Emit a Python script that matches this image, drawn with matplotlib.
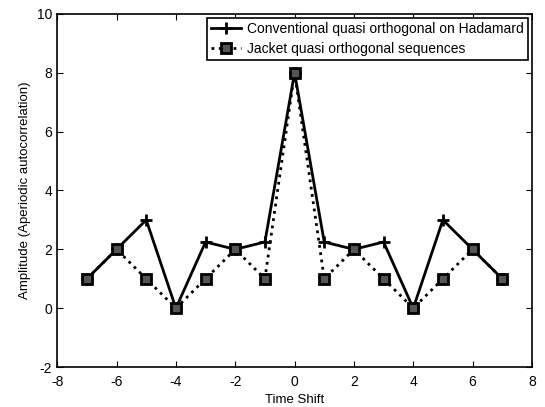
import matplotlib
matplotlib.use('Agg')
import matplotlib.pyplot as plt

plt.rcParams['font.family'] = ['Liberation Sans', 'DejaVu Sans']
plt.rcParams['axes.unicode_minus'] = False

desplazamiento = [-7, -6, -5, -4, -3, -2, -1, 0, 1, 2, 3, 4, 5, 6, 7]
convencional = [1, 2, 3, 0, 2.25, 2, 2.25, 8, 2.25, 2, 2.25, 0, 3, 2, 1]
jacket = [1, 2, 1, 0, 1, 2, 1, 8, 1, 2, 1, 0, 1, 2, 1]

fig = plt.figure(figsize=(5.45, 4.07), dpi=100)
ax = fig.add_axes([0.105, 0.098, 0.871, 0.868])

ax.plot(desplazamiento, convencional, '-', color='black', linewidth=2,
        marker='+', markersize=8, markeredgewidth=2,
        label='Conventional quasi orthogonal on Hadamard')
ax.plot(desplazamiento, jacket, ':', color='black', linewidth=2,
        marker='s', markersize=7, markerfacecolor='#555555',
        markeredgecolor='black', markeredgewidth=2,
        label='Jacket quasi orthogonal sequences')

ax.set_xlim(-8, 8)
ax.set_ylim(-2, 10)
ax.set_xticks(range(-8, 9, 2))
ax.set_yticks(range(-2, 11, 2))
ax.tick_params(direction='in', top=True, right=True, labelsize=10, length=4)
ax.tick_params(axis='x', pad=6)
for s in ax.spines.values():
    s.set_linewidth(1.2)

ax.set_xlabel('Time Shift', fontsize=9.5, labelpad=3)
ax.set_ylabel('Amplitude (Aperiodic autocorrelation)', fontsize=9.5)

leg = ax.legend(loc='upper right', fontsize=10, fancybox=False, framealpha=1,
                edgecolor='black', handlelength=2.2, borderpad=0.3,
                labelspacing=0.4, handletextpad=0.4, borderaxespad=0.3)
leg.get_frame().set_linewidth(1.2)

fig.savefig('out.png', dpi=100)
